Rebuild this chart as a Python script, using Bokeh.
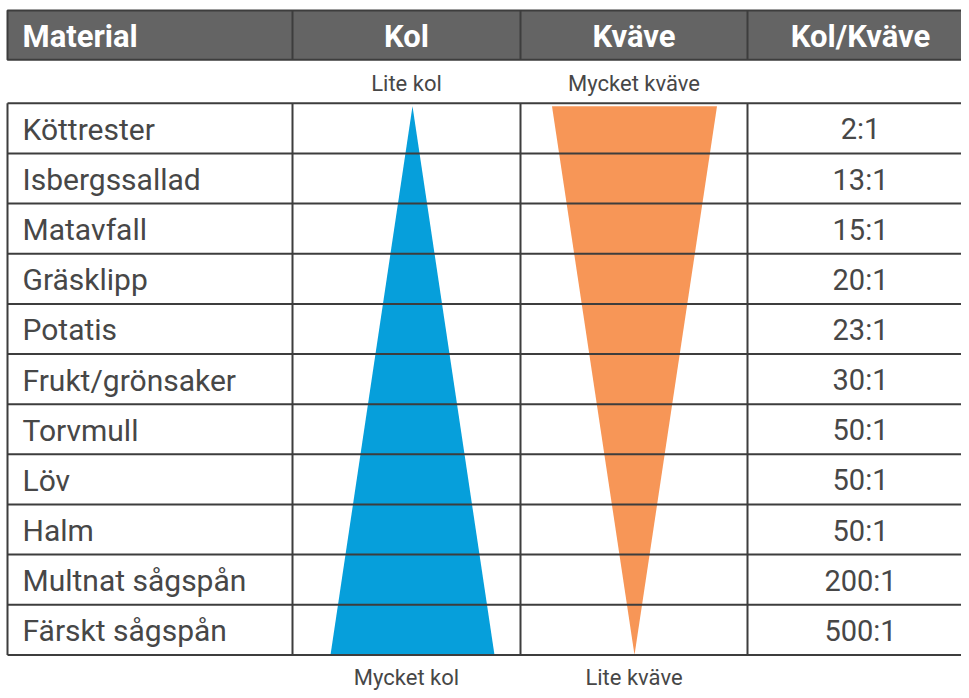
from bokeh.plotting import figure
from bokeh.models import Range1d
from bokeh.embed import file_html
from bokeh.resources import INLINE
from bokeh.core.properties import value

# ---- data ----
headers = ["Material", "Kol", "Kväve", "Kol/Kväve"]
materials = ["Köttrester", "Isbergssallad", "Matavfall", "Gräsklipp", "Potatis",
             "Frukt/grönsaker", "Torvmull", "Löv", "Halm", "Multnat sågspån",
             "Färskt sågspån"]
ratios = ["2:1", "13:1", "15:1", "20:1", "23:1", "30:1", "50:1", "50:1", "50:1",
          "200:1", "500:1"]
top_labels = ["Lite kol", "Mycket kväve"]
bottom_labels = ["Mycket kol", "Lite kväve"]
# relative wedge widths at top and bottom of the table (0 = point, 1 = full)
kol_rel = [0.0, 1.0]
kvave_rel = [1.0, 0.0]

# ---- layout (pixel coordinates of the page) ----
W, H = 961, 690
FONT = value("Roboto")
col_x = [7, 292, 520, 747, 969]
head_top, head_bot = 10, 60
tab_top, tab_bot = 104, 662
n = len(materials)
rh = (tab_bot - tab_top) / n
line_col = "#3d3d3d"
txt_col = "#474747"

p = figure(width=W, height=H, x_range=Range1d(0, W), y_range=Range1d(698, 0),
           output_backend="svg", toolbar_location=None, min_border=0)
p.axis.visible = False
p.grid.visible = False
p.outline_line_color = None
p.background_fill_color = "white"
p.border_fill_color = "white"

# header band
p.quad(left=[col_x[0]], right=[col_x[-1] + 5], top=[head_top], bottom=[head_bot],
       fill_color="#646464", line_color=line_col, line_width=2)
p.segment(x0=col_x[1:4], y0=[head_top] * 3, x1=col_x[1:4], y1=[head_bot] * 3,
          line_color=line_col, line_width=2)

hx = [22, (col_x[1] + col_x[2]) / 2, (col_x[2] + col_x[3]) / 2, (col_x[3] + col_x[4]) / 2 + 2]
haligns = ["left", "center", "center", "center"]
for x, t, a in zip(hx, headers, haligns):
    p.text(x=[x], y=[(head_top + head_bot) / 2 + 1], text=[t], text_color="white",
           text_font=FONT, text_font_style="bold", text_font_size="31px",
           text_align=a, text_baseline="middle")

# wedges
kc = (col_x[1] + col_x[2]) / 2 + 6
kw = 164
kol_xs = [kc - kol_rel[0] * kw / 2, kc + kol_rel[0] * kw / 2,
          kc + kol_rel[1] * kw / 2, kc - kol_rel[1] * kw / 2]
kol_ys = [tab_top + 3, tab_top + 3, tab_bot, tab_bot]
p.patch(x=kol_xs, y=kol_ys, fill_color="#069fdb", line_color=None)

vc = (col_x[2] + col_x[3]) / 2 + 0.5
vw = 165
kv_xs = [vc - kvave_rel[0] * vw / 2, vc + kvave_rel[0] * vw / 2,
         vc + kvave_rel[1] * vw / 2, vc - kvave_rel[1] * vw / 2]
kv_ys = [tab_top + 3, tab_top + 3, tab_bot, tab_bot]
p.patch(x=kv_xs, y=kv_ys, fill_color="#f79657", line_color=None)

# grid lines
ys = [tab_top + i * rh for i in range(n + 1)]
p.segment(x0=[col_x[0]] * len(ys), y0=ys, x1=[col_x[-1] + 5] * len(ys), y1=ys,
          line_color=line_col, line_width=2)
p.segment(x0=col_x[:4], y0=[tab_top] * 4, x1=col_x[:4], y1=[tab_bot] * 4,
          line_color=line_col, line_width=2)

# row texts
cy = [tab_top + (i + 0.5) * rh + 1 for i in range(n)]
p.text(x=[22] * n, y=cy, text=materials, text_color=txt_col, text_font=FONT,
       text_font_size="30px", text_align="left", text_baseline="middle")
p.text(x=[hx[3]] * n, y=cy, text=ratios, text_color=txt_col, text_font=FONT,
       text_font_size="29px", text_align="center", text_baseline="middle")

# wedge labels
lx = [(col_x[1] + col_x[2]) / 2, (col_x[2] + col_x[3]) / 2]
p.text(x=lx, y=[84, 84], text=top_labels, text_color=txt_col, text_font=FONT,
       text_font_size="22px", text_align="center", text_baseline="middle")
p.text(x=lx, y=[685, 685], text=bottom_labels, text_color=txt_col, text_font=FONT,
       text_font_size="22px", text_align="center", text_baseline="middle")

open("out.html", "w").write(file_html(p, INLINE))
